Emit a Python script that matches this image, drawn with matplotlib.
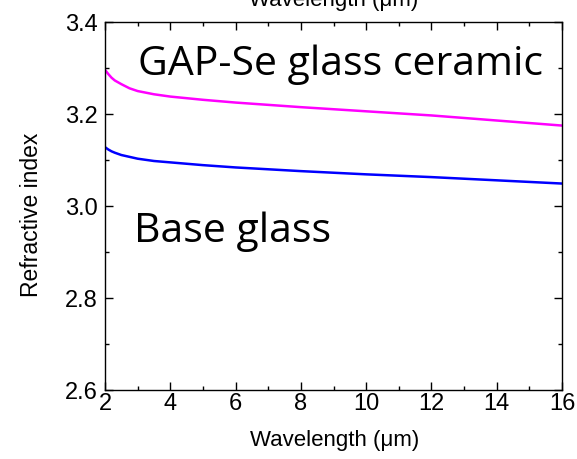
import numpy as np
import matplotlib
matplotlib.use('Agg')
from matplotlib import pyplot as plt
from matplotlib.ticker import MultipleLocator, FormatStrFormatter

plt.rcParams['font.family'] = ['Liberation Sans', 'DejaVu Sans']

# refractive index read at selected wavelengths (um)
wavelength = [2.0, 2.1, 2.2, 2.3, 2.5, 2.75, 3.0, 3.5, 4.0, 5.0, 6.0, 7.0, 8.0, 10.0, 12.0, 14.0, 16.0]
n_ceramic = [3.296, 3.287, 3.279, 3.273, 3.265, 3.256, 3.250, 3.243, 3.238, 3.231, 3.225, 3.220,
             3.215, 3.206, 3.197, 3.186, 3.175]
n_base = [3.128, 3.123, 3.119, 3.116, 3.111, 3.107, 3.103, 3.098, 3.095, 3.089, 3.084, 3.080,
          3.076, 3.069, 3.063, 3.056, 3.049]

fig = plt.figure(figsize=(5.77, 4.59), dpi=100)
ax = fig.add_axes([0.182, 0.150, 0.792, 0.802])

ax.plot(wavelength, n_ceramic, color='#ff00ff', lw=1.8)
ax.plot(wavelength, n_base, color='#0000ff', lw=1.8)

ax.set_xlim(2, 16)
ax.set_ylim(2.6, 3.4)
ax.xaxis.set_major_locator(MultipleLocator(2))
ax.xaxis.set_minor_locator(MultipleLocator(1))
ax.yaxis.set_major_locator(MultipleLocator(0.2))
ax.yaxis.set_minor_locator(MultipleLocator(0.1))
ax.yaxis.set_major_formatter(FormatStrFormatter('%.1f'))
ax.tick_params(which='both', direction='in', top=True, right=True, labelsize=17, width=1.0)
ax.tick_params(which='major', length=6)
ax.tick_params(which='minor', length=3)
ax.tick_params(axis='x', pad=2)
ax.tick_params(axis='y', pad=5)
for s in ax.spines.values():
    s.set_linewidth(1.0)

ax.set_xlabel('Wavelength (\u03bcm)', fontsize=16, va='center')
ax.set_ylabel('Refractive index', fontsize=16.5, va='center')
ax.xaxis.set_label_coords(0.502, -0.136)
ax.yaxis.set_label_coords(-0.16, 0.476)

# top axis title, partly cut by the figure edge
fig.text(0.578, 0.988, 'Wavelength (\u03bcm)', fontsize=16, ha='center', va='baseline')

ax.text(3.0, 3.285, 'GAP-Se glass ceramic', family=['Open Sans', 'DejaVu Sans'], fontsize=29.5,
        ha='left', va='baseline')
ax.text(2.9, 2.922, 'Base glass', family=['Open Sans', 'DejaVu Sans'], fontsize=29.5,
        ha='left', va='baseline')

fig.savefig('out.png', dpi=100)
